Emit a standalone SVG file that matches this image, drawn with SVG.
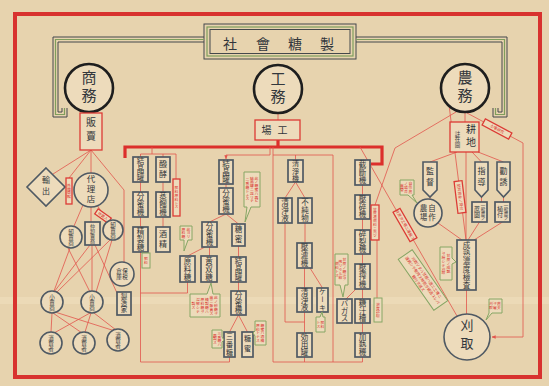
<svg xmlns="http://www.w3.org/2000/svg" width="549" height="386" viewBox="0 0 549 386">
<defs>
<style>
.t{font-family:"Noto Sans CJK JP","Noto Sans CJK SC",sans-serif;fill:#33373c}
.v{writing-mode:vertical-rl;text-anchor:middle}
.h{text-anchor:middle}
.bx{fill:#eddbbb;stroke:#4f5963;stroke-width:1.7}
.rb{fill:#eddbbb;stroke:#dc3b35;stroke-width:1.3}
.gb{fill:#eddbbb;stroke:#86a664;stroke-width:1}
.rt{fill:#d8322f;font-family:"Noto Sans CJK JP",sans-serif;font-size:3.8px}
.ln{fill:none;stroke:#e2554c;stroke-width:0.8}
.tk{fill:none;stroke:#dc2f2b;stroke-width:3.2}
.ci{fill:#eddbbb;stroke:#4f5963;stroke-width:1.6}
.big{fill:#eddbbb;stroke:#1e1e1e;stroke-width:2.6}
.dk{fill:none;stroke:#45494c;stroke-width:1}
.gr{fill:none;stroke:#7f9e5c;stroke-width:1.2}
</style>
<marker id="ar" viewBox="0 0 6 6" refX="5.5" refY="3" markerWidth="5" markerHeight="5" orient="auto"><path d="M0,0.5 L6,3 L0,5.5 Z" fill="#e2554c"/></marker>
</defs>

<rect x="0" y="0" width="549" height="386" fill="#e7d3ae"/>
<rect x="0" y="297" width="549" height="7" fill="#f2e2c3" opacity="0.45"/>
<rect x="15" y="14" width="525" height="363" fill="none" stroke="#d8322f" stroke-width="4"/>

<g id="title">
<rect x="204" y="24" width="152" height="35" class="dk"/>
<rect x="207" y="27" width="146" height="29" class="gr"/>
<rect x="210" y="29.5" width="140" height="24" class="dk"/>
<text class="t h" x="230" y="48.5" font-size="14">社</text>
<text class="t h" x="263" y="48.5" font-size="14">會</text>
<text class="t h" x="295" y="48.5" font-size="14">糖</text>
<text class="t h" x="327" y="48.5" font-size="14">製</text>
<path class="dk" d="M204,37 H53 V117 H67 V108"/>
<path class="gr" d="M204,39.5 H55.5 V114.5 H64.5 V108"/>
<path class="dk" d="M204,42 H58 V112 H62 V108"/>
<path class="dk" d="M356,37 H507 V117 H493 V108"/>
<path class="gr" d="M356,39.5 H504.5 V114.5 H495.5 V108"/>
<path class="dk" d="M356,42 H502 V112 H498 V108"/>
</g>

<g id="connectors">
<path class="tk" d="M125,158 V147 H382 V164 H371"/>
<path class="tk" d="M278,140 V147"/>
<path class="ln" d="M89,112 V113"/>
<path class="ln" d="M278,113 V120"/>
<path class="ln" d="M465,112 V122"/>
<!-- commerce -->
<path class="ln" d="M91,150 L53,174"/>
<path class="ln" d="M91,150 L69,178"/>
<path class="ln" d="M91,150 V173"/>
<path class="ln" d="M91,150 L124,190 V262"/>
<path class="ln" d="M83,205 L74,226"/>
<path class="ln" d="M91,207 V222"/>
<path class="ln" d="M97,205 L108,222"/>
<path class="ln" d="M68,248 L90,292 M70,248 L54,291 M90,245 L54,292 M92,245 L92,291 M95,245 L117,293 M110,240 L56,293 M112,240 L96,292"/>
<path class="ln" d="M52,313 L51,332 M53,313 L82,333 M55,312 L115,331 M90,313 L54,333 M91,313 L85,332 M94,313 L116,330"/>
<!-- industry -->
<path class="ln" d="M152,147 V154 M140.5,157 V154 H176 V179 M163,154 V157"/>
<path class="ln" d="M140.5,182 V192 M140.5,217 V227 M163,182 V192 M163,217 V227"/>
<path class="ln" d="M140.5,252 V362 H229.5 V357"/>
<path class="ln" d="M140.5,293 H187.5 V282"/>
<path class="ln" d="M270,147 V155 H226 V159" marker-end="url(#ar)"/>
<path class="ln" d="M226,184 V188 M226,214 L209.5,222 M226,214 L238.5,224 M209.5,247 V256 M205,247 L187.5,256"/>
<path class="ln" d="M238.5,246 V257 M238.5,282 V291 M238.5,315 L229.5,332 M238.5,315 L247.5,332"/>
<path class="ln" d="M273,147 V362 H362.5 V357 M273,155 H333 V362 M295.5,155 V160"/>
<path class="ln" d="M295.5,182 L285,198 M295.5,182 L305,198 M285,223 V322 H304.5 M305,223 V243 M304.5,268 V288 M310,268 L322.5,288 M304.5,312 V333 M304.5,357 V362"/>
<path class="ln" d="M362.5,185 V195 M362.5,219 V230 M362.5,254 V264 M362.5,289 V299 M362.5,323 V333 M356,289 L346,299"/>
<!-- agriculture -->
<path class="ln" d="M456,112 L395,148 L375,205 M377,240 V298"/>
<path class="ln" d="M360,147 L457,316"/>
<path class="ln" d="M467,113 L523,143 V337 H492" marker-end="url(#ar)"/>
<path class="ln" d="M449,105 L466,240"/>
<path class="ln" d="M457,152 L430,162 M472,152 L481.5,162 M478,152 L503.5,162 M466,152 V240"/>
<path class="ln" d="M430,197 V199 M481.5,197 V202 M503.5,197 V202 M438,223 L462,240 M479.5,222 L468,240 M502.5,222 L474,240 M466.5,290 V314"/>
</g>

<g id="shomu"><circle cx="89" cy="88" r="24" class="big"/><text class="t v" x="89" y="88" font-size="15" letter-spacing="3">商務</text></g>
<g id="komu"><circle cx="278" cy="89" r="24" class="big"/><text class="t v" x="278" y="89" font-size="15" letter-spacing="3">工務</text></g>
<g id="nomu"><circle cx="465" cy="88" r="24" class="big"/><text class="t v" x="465" y="88" font-size="15" letter-spacing="3">農務</text></g>

<g id="hanbai"><rect x="80" y="113" width="22" height="37" class="rb" stroke-width="1.6"/><text class="t v" x="91" y="131.5" font-size="10" letter-spacing="4">販賣</text></g>
<g id="kojo"><rect x="255" y="120" width="45" height="20" class="rb" stroke-width="1.6"/><text class="t h" x="277.5" y="134" font-size="10" letter-spacing="6">場工</text></g>
<g id="kochi"><rect x="450" y="122" width="29" height="30" class="rb" stroke-width="1.6"/><text class="t v" x="471" y="137" font-size="10" letter-spacing="3">耕地</text><text class="t v" x="457.5" y="139" font-size="5.5">註在圖</text></g>

<g id="yushutsu"><polygon points="46,168 65,187 46,206 27,187" fill="#eddbbb" stroke="#4f5963" stroke-width="1.6"/><text class="t v" x="46" y="187" font-size="8" letter-spacing="3">輸出</text></g>
<g id="gaikoku"><rect x="66" y="178" width="6" height="26" class="rb" stroke-width="0.9"/><text class="rt v" x="69" y="191">外國商館</text></g>
<g id="dairiten"><circle cx="91" cy="190" r="17" class="ci"/><text class="t v" x="91" y="190" font-size="8.5" letter-spacing="1.5">代理店</text></g>
<g id="nakagai" transform="rotate(35 103 216)"><rect x="95" y="213" width="16" height="6" class="rb" stroke-width="0.9"/><text class="rt h" x="103" y="217.5">仲買人</text></g>
<g id="oroshi1"><circle cx="71" cy="237" r="11" class="ci"/><text class="t v" x="71" y="237" font-size="5.5">卸賣商</text></g>
<g id="nakaoroshi"><rect x="85" y="222" width="15" height="23" class="bx"/><text class="t v" x="92.5" y="233.5" font-size="5">仲卸賣商</text></g>
<g id="oroshi2"><circle cx="113" cy="230" r="10" class="ci"/><text class="t v" x="113" y="230" font-size="5.5">卸賣商</text></g>
<g id="hozei"><circle cx="122" cy="274" r="12" class="ci"/><text class="t v" x="125" y="274" font-size="5.5">保税</text><text class="t v" x="119" y="274" font-size="5.5">倉庫</text></g>
<g id="seizoka"><rect x="117" y="292" width="14" height="23" class="bx"/><text class="t v" x="124" y="303.5" font-size="6.5">製造家</text></g>
<g id="kouri1"><circle cx="52" cy="302" r="11" class="ci"/><text class="t v" x="52" y="302" font-size="5.5">小賣商</text></g>
<g id="kouri2"><circle cx="92" cy="302" r="11" class="ci"/><text class="t v" x="92" y="302" font-size="5.5">小賣商</text></g>
<g id="shohi1"><circle cx="51" cy="343" r="11" class="ci"/><text class="t v" x="51" y="343" font-size="5.5">消費者</text></g>
<g id="shohi2"><circle cx="84" cy="343" r="11" class="ci"/><text class="t v" x="84" y="343" font-size="5.5">消費者</text></g>
<g id="shohi3"><circle cx="118" cy="340" r="11" class="ci"/><text class="t v" x="118" y="340" font-size="5.5">消費者</text></g>

<g id="a1"><rect x="133" y="157" width="15" height="25" class="bx"/><text class="t v" x="140.5" y="169.5" font-size="7.5" letter-spacing="0.5">結晶罐</text></g>
<g id="a2"><rect x="133" y="192" width="15" height="25" class="bx"/><text class="t v" x="140.5" y="204.5" font-size="7.5" letter-spacing="0.5">分蜜機</text></g>
<g id="a3"><rect x="133" y="227" width="15" height="25" class="bx"/><text class="t v" x="140.5" y="239.5" font-size="7.5" letter-spacing="0.5">精製糖</text></g>
<g id="b1"><rect x="156" y="157" width="14" height="25" class="bx"/><text class="t v" x="163" y="169.5" font-size="8" letter-spacing="2">醱酵</text></g>
<g id="b2"><rect x="156" y="192" width="14" height="25" class="bx"/><text class="t v" x="163" y="204.5" font-size="7.5" letter-spacing="0.5">蒸餾機</text></g>
<g id="b3"><rect x="156" y="227" width="14" height="25" class="bx"/><text class="t v" x="163" y="239.5" font-size="8" letter-spacing="2">酒精</text></g>
<g id="r1"><rect x="173" y="179" width="7" height="37" class="rb" stroke-width="0.9"/><text class="rt v" x="176.5" y="197.5">肥料原料トス</text></g>
<g id="g0"><rect x="142" y="253" width="8" height="15" class="gb"/><text class="rt v" x="146" y="260.5">肥料</text></g>

<g id="c1"><rect x="219" y="160" width="14" height="24" class="bx"/><text class="t v" x="226" y="172" font-size="7.5" letter-spacing="0.3">結晶罐</text></g>
<g id="c2"><rect x="219" y="188" width="14" height="26" class="bx"/><text class="t v" x="226" y="201" font-size="7.5" letter-spacing="0.5">分蜜機</text></g>
<g id="c3"><rect x="202" y="222" width="15" height="25" class="bx"/><text class="t v" x="209.5" y="234.5" font-size="7.5" letter-spacing="0.5">分蜜機</text></g>
<g id="c4"><rect x="232" y="224" width="13" height="22" class="bx"/><text class="t v" x="238.5" y="235" font-size="7.5" letter-spacing="2">糖蜜</text></g>
<g id="g1"><path class="gb" d="M244,172 H260 V207 H251 L245,222 L247,207 H244 Z"/><text class="rt v" x="256.5" y="189.5">此ノ糖蜜ハ再ビ</text><text class="rt v" x="252" y="189.5">結晶罐ニ送リテ</text><text class="rt v" x="247.5" y="189.5">二番糖トナス</text></g>
<g id="g2"><path class="gb" d="M180,226 H192 V240 H188 L184,251 L184,240 H180 Z"/><text class="rt v" x="188.5" y="233">此ヨリ</text><text class="rt v" x="183.5" y="233">原料糖</text></g>
<g id="c5"><rect x="180" y="256" width="15" height="26" class="bx"/><text class="t v" x="187.5" y="269" font-size="7.5" letter-spacing="0.5">原料糖</text></g>
<g id="c6"><rect x="201" y="256" width="16" height="26" class="bx"/><text class="t v" x="209" y="269" font-size="7.5" letter-spacing="0.5">黄双糖</text></g>
<g id="g3"><path class="gb" d="M190,294 H207 L211,283 L213,294 H220 V317 H190 Z"/><text class="rt v" x="216" y="305.5">此ノ砂糖ヲ</text><text class="rt v" x="211.5" y="305.5">直ニ販賣ス</text><text class="rt v" x="207" y="305.5">精製糖ハ</text><text class="rt v" x="202.5" y="305.5">原料糖ヲ</text><text class="rt v" x="198" y="305.5">溶解シテ</text><text class="rt v" x="193.5" y="305.5">製ス</text></g>
<g id="c7"><rect x="231" y="257" width="15" height="25" class="bx"/><text class="t v" x="238.5" y="269.5" font-size="7.5" letter-spacing="0.5">結晶罐</text></g>
<g id="c8"><rect x="231" y="291" width="15" height="24" class="bx"/><text class="t v" x="238.5" y="303" font-size="7.5" letter-spacing="0.3">分蜜機</text></g>
<g id="c9"><rect x="224" y="332" width="11" height="25" class="bx"/><text class="t v" x="229.5" y="344.5" font-size="7" letter-spacing="0.8">三番糖</text></g>
<g id="c10"><rect x="242" y="332" width="11" height="25" class="bx"/><text class="t v" x="247.5" y="344.5" font-size="7" letter-spacing="3">糖蜜</text></g>
<g id="g4"><path class="gb" d="M212,330 H222 V337 L224,340 L222,342 V348 H212 Z"/><text class="rt v" x="219.5" y="339">三番糖ハ</text><text class="rt v" x="215" y="339">再製ス</text></g>
<g id="g5"><path class="gb" d="M255,321 H266 V345 H255 V336 L253,333 L255,331 Z"/><text class="rt v" x="262.5" y="333">糖蜜ハ酒精</text><text class="rt v" x="258" y="333">原料トナス</text></g>

<g id="d1"><rect x="288" y="160" width="15" height="22" class="bx"/><text class="t v" x="295.5" y="171" font-size="7" letter-spacing="0.3">清淨機</text></g>
<g id="d2"><rect x="278" y="198" width="14" height="25" class="bx"/><text class="t v" x="285" y="210.5" font-size="7.5" letter-spacing="0.5">清淨液</text></g>
<g id="d3"><rect x="298" y="198" width="14" height="25" class="bx"/><text class="t v" x="305" y="210.5" font-size="7.5" letter-spacing="0.5">不純物</text></g>
<g id="d4"><rect x="297" y="243" width="15" height="25" class="bx"/><text class="t v" x="304.5" y="255.5" font-size="7.5" letter-spacing="0.5">壓濾機</text></g>
<g id="d5"><rect x="297" y="288" width="15" height="24" class="bx"/><text class="t v" x="304.5" y="300" font-size="7.5" letter-spacing="0.3">清淨液</text></g>
<g id="d6"><rect x="317" y="288" width="11" height="24" class="bx"/><text class="t v" x="322.5" y="300" font-size="7" letter-spacing="0.8">ケーキ</text></g>
<g id="g6"><path class="gb" d="M316,317 H320 L322,312 L323,317 H325 V332 H316 Z"/><text class="rt v" x="322.5" y="324.5">肥料</text><text class="rt v" x="318.5" y="324.5">トス</text></g>
<g id="d7"><rect x="297" y="333" width="15" height="24" class="bx"/><text class="t v" x="304.5" y="345" font-size="7.5" letter-spacing="0.3">効用罐</text></g>

<g id="e1"><rect x="355" y="160" width="15" height="25" class="bx"/><text class="t v" x="362.5" y="172.5" font-size="7.5" letter-spacing="0.5">截斷機</text></g>
<g id="e2"><rect x="355" y="195" width="15" height="24" class="bx"/><text class="t v" x="362.5" y="207" font-size="7.5" letter-spacing="0.3">壓碎機</text></g>
<g id="e3"><rect x="355" y="230" width="15" height="24" class="bx"/><text class="t v" x="362.5" y="242" font-size="7.5" letter-spacing="0.3">碎裂機</text></g>
<g id="e4"><rect x="355" y="264" width="15" height="25" class="bx"/><text class="t v" x="362.5" y="276.5" font-size="7.5" letter-spacing="0.5">壓搾機</text></g>
<g id="e5"><rect x="355" y="299" width="15" height="24" class="bx"/><text class="t v" x="362.5" y="311" font-size="7.5" letter-spacing="0.3">糖汁槽</text></g>
<g id="e6"><rect x="355" y="333" width="15" height="24" class="bx"/><text class="t v" x="362.5" y="345" font-size="7.5" letter-spacing="0.3">加熱機</text></g>
<g id="f1"><rect x="337" y="299" width="15" height="24" class="bx"/><text class="t v" x="344.5" y="311" font-size="7.5" letter-spacing="0.3">バガス</text></g>
<g id="g7"><path class="gb" d="M335,254 H348 V285 H345 L343,297 L340,285 H335 Z"/><text class="rt v" x="344.5" y="269.5">甘蔗ノ糖汁ヲ</text><text class="rt v" x="340.5" y="269.5">搾リタル粕</text><text class="rt v" x="336.8" y="269.5">燃料トス</text></g>
<g id="r2"><rect x="371" y="205" width="8" height="35" class="rb" stroke-width="0.9"/><text class="rt v" x="375" y="222.5">甘蔗渣燃料ニ充ツ</text></g>
<g id="g8"><rect x="374" y="298" width="8" height="24" class="gb"/><text class="rt v" x="378" y="310">濃度試驗</text></g>

<g id="r3" transform="rotate(28 497 129)"><rect x="482" y="125.5" width="30" height="7" class="rb" stroke-width="0.9"/><text class="rt h" x="497" y="130.3">土壤研究</text></g>
<g id="h1"><path d="M423,162 H437 V190 L430,197 L423,190 Z" fill="#eddbbb" stroke="#4f5963" stroke-width="1.6"/><text class="t v" x="430" y="178" font-size="8" letter-spacing="3">監督</text></g>
<g id="h2"><path d="M475,162 H488 V190 L481.5,197 L475,190 Z" fill="#eddbbb" stroke="#4f5963" stroke-width="1.6"/><text class="t v" x="481.5" y="178" font-size="8" letter-spacing="3">指導</text></g>
<g id="h3"><path d="M497,162 H510 V190 L503.5,197 L497,190 Z" fill="#eddbbb" stroke="#4f5963" stroke-width="1.6"/><text class="t v" x="503.5" y="178" font-size="8" letter-spacing="3">勸誘</text></g>
<g id="g9"><path class="gb" d="M400,180 H414 V195 H412 L417,203 L408,195 H400 Z"/><text class="rt v" x="410.5" y="187.5">自作農</text><text class="rt v" x="406" y="187.5">ノ場合</text><text class="rt v" x="401.8" y="187.5">直營</text></g>
<g id="h4"><circle cx="428" cy="213" r="14" class="ci"/><text class="t v" x="432" y="213" font-size="7.5" letter-spacing="1">自作</text><text class="t v" x="423.5" y="213" font-size="7.5" letter-spacing="1">農場</text></g>
<g id="h5"><rect x="472" y="202" width="15" height="20" class="bx"/><text class="t v" x="483" y="212" font-size="4.5">一般農ノ</text><text class="t v" x="477" y="212" font-size="6">蔗園</text></g>
<g id="h6"><rect x="495" y="202" width="15" height="20" class="bx"/><text class="t v" x="506" y="212" font-size="4.5">一般農ノ</text><text class="t v" x="500" y="212" font-size="6">植付</text></g>
<g id="r4" transform="rotate(83 460 197)"><rect x="444" y="193" width="32" height="8" class="rb" stroke-width="0.9"/><text class="rt h" x="460" y="198.3">肥料資金ノ貸付</text></g>
<g id="r5" transform="rotate(60 405 225)"><rect x="388" y="221" width="34" height="8" class="rb" stroke-width="0.9"/><text class="rt h" x="405" y="226.3">甘蔗ヲ工場ニ運搬ス</text></g>
<g id="h7"><rect x="457" y="240" width="19" height="50" class="bx"/><text class="t v" x="466.5" y="265" font-size="7.5" letter-spacing="0.5">成熟濃度檢査</text></g>
<g id="g10"><path class="gb" d="M440,247 H452 V258 L456,262 L452,264 V280 H440 Z"/><text class="rt v" x="448.5" y="263.5">甘蔗ノ成熟</text><text class="rt v" x="443.5" y="263.5">ヲ檢シテ刈取</text></g>
<g id="g11" transform="rotate(55 423 280)"><rect x="392" y="271.5" width="62" height="17" class="gb"/><text class="rt h" x="423" y="277">刈取リタル甘蔗ハ直ニ工場ニ</text><text class="rt h" x="423" y="282">運搬シテ壓搾ス時間ヲ經過スレバ</text><text class="rt h" x="423" y="287">糖分ヲ減ズ</text></g>
<g id="karitori"><circle cx="467" cy="337" r="23" class="ci"/><text class="t v" x="467" y="337" font-size="13" letter-spacing="5">刈取</text></g>
<g id="g12"><path class="gb" d="M489,299 H502 V313 H492 L486,320 L489,313 Z"/><text class="rt v" x="499" y="305.5">農夫</text><text class="rt v" x="495" y="305.5">ヲ雇</text><text class="rt v" x="491" y="305.5">刈取</text></g>
</svg>
